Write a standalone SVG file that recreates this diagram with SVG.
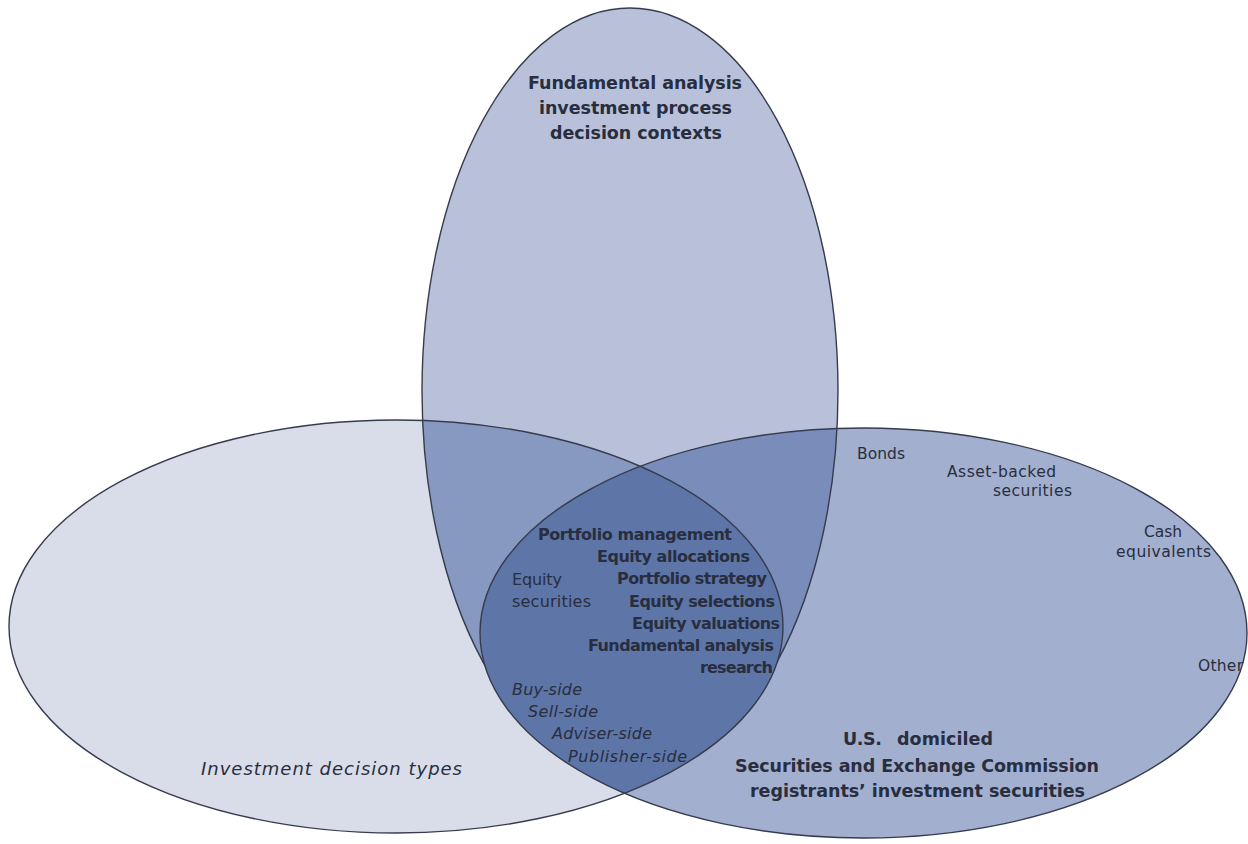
<svg xmlns="http://www.w3.org/2000/svg" width="1248" height="844" viewBox="0 0 1248 844">
<defs>
<clipPath id="clipL"><ellipse cx="396" cy="626.5" rx="387" ry="206.5"/></clipPath>
<clipPath id="clipR"><ellipse cx="863.5" cy="633" rx="383.5" ry="205"/></clipPath>
<style>
.edge{fill:none;stroke:#363c4e;stroke-width:1.4}
.t{font-family:"DejaVu Sans","Liberation Sans",sans-serif;fill:#282e3e}
.b{font-weight:bold}
.i{font-style:italic}
.s17{font-size:17.5px}
.s18{font-size:18px}
.s16{font-size:16px}
.s15{font-size:15.5px}
</style>
</defs>
<rect width="1248" height="844" fill="#ffffff"/>
<g id="fills">
<ellipse cx="396" cy="626.5" rx="387" ry="206.5" fill="#d8dde9"/>
<ellipse cx="863.5" cy="633" rx="383.5" ry="205" fill="#a2afcf"/>
<ellipse cx="630" cy="391" rx="208" ry="383" fill="#b9c1da"/>
<ellipse cx="630" cy="391" rx="208" ry="383" fill="#8798c1" clip-path="url(#clipL)"/>
<ellipse cx="630" cy="391" rx="208" ry="383" fill="#798cba" clip-path="url(#clipR)"/>
</g>
<g id="node-top">
<ellipse class="edge" cx="630" cy="391" rx="208" ry="383"/>
</g>
<g id="lens">
<g clip-path="url(#clipR)"><ellipse cx="396" cy="626.5" rx="387" ry="206.5" fill="#5d75a7"/></g>
</g>
<g id="node-left">
<ellipse class="edge" cx="396" cy="626.5" rx="387" ry="206.5"/>
</g>
<g id="node-right">
<ellipse class="edge" cx="863.5" cy="633" rx="383.5" ry="205"/>
</g>
<g id="labels-top">
<text class="t b s17" x="528" y="89" textLength="214">Fundamental analysis</text>
<text class="t b s17" x="539" y="114" textLength="193">investment process</text>
<text class="t b s17" x="550" y="139" textLength="172">decision contexts</text>
</g>
<g id="labels-left">
<text class="t i s18" x="201" y="775" textLength="261">Investment decision types</text>
</g>
<g id="labels-right">
<text class="t s15" x="857" y="459" textLength="48">Bonds</text>
<text class="t s15" x="947" y="477" textLength="109">Asset-backed</text>
<text class="t s15" x="993" y="496" textLength="79">securities</text>
<text class="t s15" x="1144" y="537" textLength="38">Cash</text>
<text class="t s15" x="1116" y="557" textLength="95">equivalents</text>
<text class="t s15" x="1198" y="671" textLength="45">Other</text>
<text class="t b s17" y="745"><tspan x="843" textLength="39">U.S.</tspan><tspan x="897" textLength="96">domiciled</tspan></text>
<text class="t b s17" x="735" y="772" textLength="364">Securities and Exchange Commission</text>
<text class="t b s17" x="750" y="797" textLength="335">registrants’ investment securities</text>
</g>
<g id="labels-center">
<text class="t b s16" x="538" y="540" textLength="194">Portfolio management</text>
<text class="t b s16" x="597" y="562" textLength="153">Equity allocations</text>
<text class="t b s16" x="617" y="584" textLength="150">Portfolio strategy</text>
<text class="t b s16" x="629" y="607" textLength="146">Equity selections</text>
<text class="t b s16" x="632" y="629" textLength="148">Equity valuations</text>
<text class="t b s16" x="588" y="651" textLength="186">Fundamental analysis</text>
<text class="t b s16" x="700" y="673" textLength="73">research</text>
<text class="t s16" x="512" y="585" textLength="50">Equity</text>
<text class="t s16" x="512" y="607" textLength="79">securities</text>
<text class="t i s16" x="512" y="695" textLength="70">Buy-side</text>
<text class="t i s16" x="528" y="717" textLength="70">Sell-side</text>
<text class="t i s16" x="552" y="739" textLength="100">Adviser-side</text>
<text class="t i s16" x="568" y="762" textLength="119">Publisher-side</text>
</g>
</svg>
